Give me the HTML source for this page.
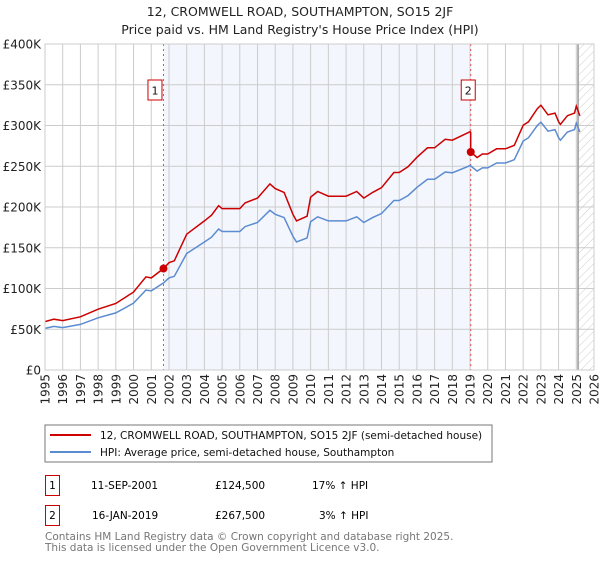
<!DOCTYPE html>
<html><head><meta charset="utf-8"><style>
body{margin:0;background:#fff;font-family:"DejaVu Sans","Liberation Sans",sans-serif;}
svg text{font-family:"DejaVu Sans","Liberation Sans",sans-serif;}
</style></head><body>
<svg id="chart" width="600" height="560" viewBox="0 0 600 560">
<defs><pattern id="hatch" width="6" height="6" patternUnits="userSpaceOnUse" patternTransform="rotate(45)"><line x1="0" y1="0" x2="0" y2="6" stroke="#ccc" stroke-width="1"/></pattern></defs>
<text x="300" y="16" text-anchor="middle" font-size="12.5" fill="#222">12, CROMWELL ROAD, SOUTHAMPTON, SO15 2JF</text>
<text x="300" y="34" text-anchor="middle" font-size="12.5" fill="#222">Price paid vs. HM Land Registry's House Price Index (HPI)</text>
<g id="grid"></g><g id="marks"></g><g id="axes"></g>
<rect x="45" y="425" width="447" height="37" fill="#fff" stroke="#777"/>
<line x1="50" y1="435" x2="91" y2="435" stroke="#cc0000" stroke-width="2"/>
<text x="100" y="439" font-size="10.5" fill="#111">12, CROMWELL ROAD, SOUTHAMPTON, SO15 2JF (semi-detached house)</text>
<line x1="50" y1="452" x2="91" y2="452" stroke="#5b8bd0" stroke-width="2"/>
<text x="100" y="456" font-size="10.5" fill="#111">HPI: Average price, semi-detached house, Southampton</text>
<g>
<rect x="45.5" y="475.5" width="14" height="20" fill="#fff" stroke="#cc0000"/><text x="52.5" y="489" text-anchor="middle" font-size="10.5">1</text>
<text x="91" y="489" font-size="10.5">11-SEP-2001</text><text x="215" y="489" font-size="10.5">£124,500</text><text x="312" y="489" font-size="10.5">17% ↑ HPI</text></g>
<g>
<rect x="45.5" y="505.5" width="14" height="20" fill="#fff" stroke="#cc0000"/><text x="52.5" y="519" text-anchor="middle" font-size="10.5">2</text>
<text x="92" y="519" font-size="10.5">16-JAN-2019</text><text x="215" y="519" font-size="10.5">£267,500</text><text x="319" y="519" font-size="10.5">3% ↑ HPI</text></g>
<text x="45" y="540" font-size="10.5" fill="#777">Contains HM Land Registry data © Crown copyright and database right 2025.</text>
<text x="45" y="551" font-size="10.5" fill="#777">This data is licensed under the Open Government Licence v3.0.</text>
</svg>
<script>
const years=[1995,1996,1997,1998,1999,2000,2001,2002,2003,2004,2005,2006,2007,2008,2009,2010,2011,2012,2013,2014,2015,2016,2017,2018,2019,2020,2021,2022,2023,2024,2025,2026];
const yTicks=[0,50000,100000,150000,200000,250000,300000,350000,400000];
const yTickLabels=["£0","£50K","£100K","£150K","£200K","£250K","£300K","£350K","£400K"];
const hpiDates=[1995,1995.5,1996,1997,1998,1999,2000,2000.7,2001,2001.7,2002,2002.3,2003,2004,2004.4,2004.8,2005,2006,2006.3,2007,2007.7,2008,2008.5,2009,2009.2,2009.8,2010,2010.4,2011,2012,2012.6,2013,2013.5,2014,2014.7,2015,2015.5,2016,2016.6,2017,2017.6,2018,2018.9,2019,2019.4,2019.7,2020,2020.5,2021,2021.5,2022,2022.3,2022.8,2023,2023.4,2023.8,2024,2024.1,2024.5,2024.9,2025.0,2025.2];
const hpiValues=[51000,53500,52000,56000,64000,70000,82000,98000,97000,107000,113000,115000,143000,157000,163000,173000,170000,170000,176000,181000,196000,191000,187000,164000,157000,162000,182000,188000,183000,183000,188000,181000,187000,192000,208000,208000,214000,224000,234000,234000,243000,242000,250000,251000,244000,248000,248000,254000,254000,258000,281000,285000,300000,304000,293000,295000,285000,282000,292000,295000,303000,292000];
const saleDates=[2001.69,2019.04];
const salePrices=[124500,267500];
const saleLabels=["1","2"];
const X0=45,X1=594,Y0=370,Y1=44;
const xs=t=>X0+(t-1995)/31*(X1-X0);
const ys=v=>Y0-v/400000*(Y0-Y1);
const NS="http://www.w3.org/2000/svg";
function mk(tag,attrs,parent){const e=document.createElementNS(NS,tag);for(const k in attrs)e.setAttribute(k,attrs[k]);parent.appendChild(e);return e;}
const grid=document.getElementById('grid'),marks=document.getElementById('marks'),axes=document.getElementById('axes');
function hpiAt(t){for(let i=0;i<hpiDates.length-1;i++){if(t>=hpiDates[i]&&t<=hpiDates[i+1]){const f=(t-hpiDates[i])/(hpiDates[i+1]-hpiDates[i]);return hpiValues[i]+f*(hpiValues[i+1]-hpiValues[i]);}}return hpiValues[hpiValues.length-1];}
const shade=mk('rect',{x:xs(saleDates[0]),y:Y1,width:xs(saleDates[1])-xs(saleDates[0]),height:Y0-Y1,fill:'#f0f4fd',opacity:0.8},grid);


const fut=mk('rect',{x:xs(2025.1),y:Y1,width:X1-xs(2025.1),height:Y0-Y1,fill:'url(#hatch)'},grid);


years.forEach(y=>{const l=mk('line',{x1:xs(y),x2:xs(y),y1:Y1,y2:Y0,stroke:'#ccc','stroke-width':1},grid);


const t=mk('text',{x:0,y:0,'font-size':12,fill:'#222','text-anchor':'end',transform:`translate(${xs(y)+4.5},374) rotate(-90)`},axes);t.textContent=y;

});
yTicks.forEach((v,i)=>{const l=mk('line',{x1:X0,x2:X1,y1:ys(v),y2:ys(v),stroke:'#ccc','stroke-width':1},grid);


const t=mk('text',{x:41,y:ys(v)+4.5,'font-size':12,fill:'#222','text-anchor':'end'},axes);t.textContent=yTickLabels[i];

});
const edge=mk('line',{x1:xs(2025.1),x2:xs(2025.1),y1:Y1,y2:Y0,stroke:'#999','stroke-width':1.5},grid);


saleDates.forEach((d,i)=>{const l=mk('line',{x1:xs(d),x2:xs(d),y1:Y1,y2:Y0,stroke:'#e05050','stroke-width':1,'stroke-dasharray':'2,3'},marks);

});
const hp=hpiDates.map((d,i)=>`${xs(d).toFixed(1)},${ys(hpiValues[i]).toFixed(1)}`).join(' ');
const hl=mk('polyline',{points:hp,fill:'none',stroke:'#5b8bd0','stroke-width':1.5},marks);


const base1=hpiAt(saleDates[0]),base2=hpiAt(saleDates[1]);
let pre=hpiDates.map((d,i)=>[d,hpiValues[i]]).filter(p=>p[0]<saleDates[1]).map(p=>[p[0],p[1]*salePrices[0]/base1]);
pre.push([saleDates[1],base2*salePrices[0]/base1]);
pre.push([saleDates[1],salePrices[1]]);
let post=hpiDates.map((d,i)=>[d,hpiValues[i]]).filter(p=>p[0]>saleDates[1]).map(p=>[p[0],p[1]*salePrices[1]/base2]);
const all=pre.concat(post);
const pl=mk('polyline',{points:all.map(p=>`${xs(p[0]).toFixed(1)},${ys(p[1]).toFixed(1)}`).join(' '),fill:'none',stroke:'#cc0000','stroke-width':1.5},marks);


saleDates.forEach((d,i)=>{const c=mk('circle',{cx:xs(d),cy:ys(salePrices[i]),r:4,fill:'#cc0000'},marks);


const g=mk('g',{},marks);


const bx=xs(d)-(i==0?9:3);
mk('rect',{x:bx-6.5,y:80,width:14,height:20,fill:'#fff',stroke:'#cc0000'},g);
const t=mk('text',{x:bx+0.5,y:94.5,'font-size':11,'text-anchor':'middle',fill:'#111'},g);t.textContent=saleLabels[i];});
const fr=mk('rect',{x:X0,y:Y1,width:X1-X0,height:Y0-Y1,fill:'none',stroke:'#ccc'},axes);


</script>
</body></html>
